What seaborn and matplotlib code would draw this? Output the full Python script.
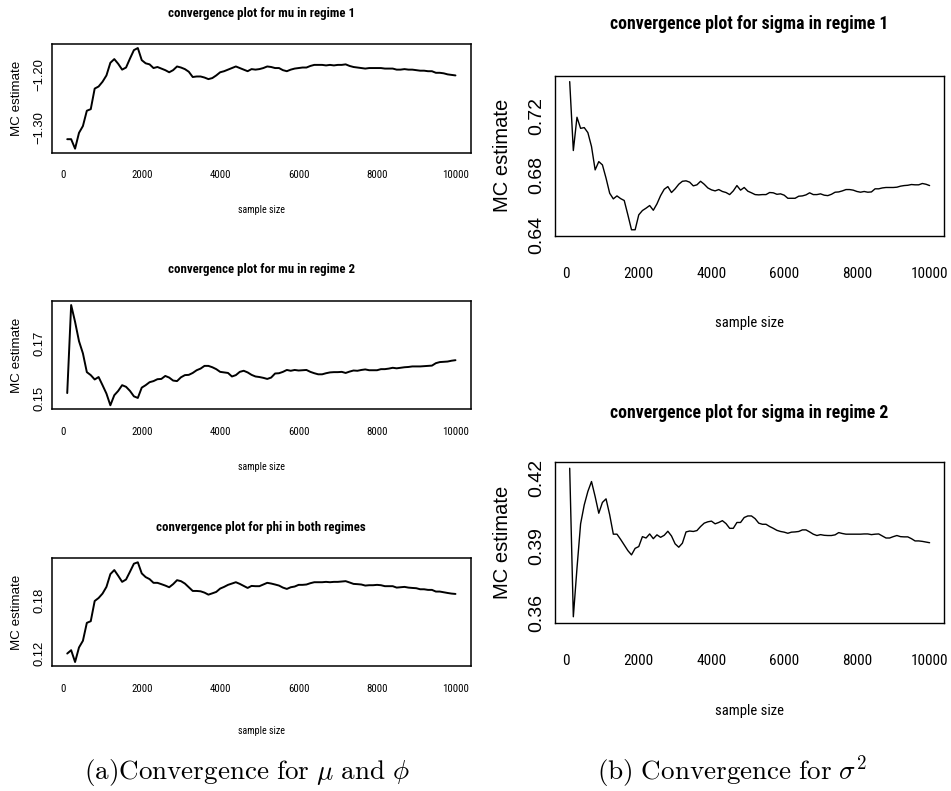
import numpy as np
import pandas as pd
import matplotlib
matplotlib.use("Agg")
import matplotlib.pyplot as plt
from matplotlib import font_manager
import seaborn as sns

# running MC estimates, recorded every 100 draws
sample_size = list(range(100, 10001, 100))

mu_regime1 = [
    -1.322, -1.322, -1.340, -1.310, -1.297, -1.268, -1.265, -1.226, -1.222, -1.213,
    -1.201, -1.177, -1.170, -1.179, -1.190, -1.186, -1.169, -1.153, -1.149, -1.172,
    -1.178, -1.180, -1.187, -1.185, -1.188, -1.191, -1.195, -1.191, -1.184, -1.186,
    -1.189, -1.194, -1.204, -1.203, -1.203, -1.205, -1.208, -1.206, -1.201, -1.195,
    -1.193, -1.190, -1.187, -1.184, -1.187, -1.190, -1.193, -1.189, -1.190, -1.189,
    -1.187, -1.184, -1.185, -1.187, -1.187, -1.191, -1.193, -1.190, -1.188, -1.187,
    -1.186, -1.186, -1.183, -1.181, -1.181, -1.181, -1.182, -1.181, -1.182, -1.181,
    -1.181, -1.180, -1.183, -1.185, -1.186, -1.187, -1.188, -1.187, -1.187, -1.187,
    -1.187, -1.188, -1.188, -1.188, -1.190, -1.190, -1.189, -1.190, -1.190, -1.191,
    -1.192, -1.192, -1.193, -1.193, -1.196, -1.196, -1.197, -1.199, -1.200, -1.201,
]

mu_regime2 = [
    0.1518, 0.1842, 0.1780, 0.1709, 0.1664, 0.1595, 0.1584, 0.1568, 0.1577, 0.1547,
    0.1516, 0.1473, 0.1510, 0.1526, 0.1547, 0.1541, 0.1526, 0.1506, 0.1500, 0.1538,
    0.1547, 0.1558, 0.1562, 0.1569, 0.1570, 0.1581, 0.1575, 0.1564, 0.1562, 0.1576,
    0.1584, 0.1585, 0.1592, 0.1602, 0.1608, 0.1618, 0.1618, 0.1613, 0.1606, 0.1596,
    0.1594, 0.1592, 0.1579, 0.1584, 0.1596, 0.1600, 0.1594, 0.1585, 0.1579, 0.1577,
    0.1574, 0.1570, 0.1575, 0.1590, 0.1591, 0.1596, 0.1603, 0.1600, 0.1603, 0.1601,
    0.1602, 0.1603, 0.1596, 0.1591, 0.1587, 0.1587, 0.1591, 0.1594, 0.1595, 0.1595,
    0.1596, 0.1592, 0.1597, 0.1601, 0.1600, 0.1603, 0.1605, 0.1602, 0.1602, 0.1602,
    0.1606, 0.1606, 0.1608, 0.1611, 0.1609, 0.1611, 0.1613, 0.1614, 0.1616, 0.1616,
    0.1616, 0.1617, 0.1618, 0.1619, 0.1628, 0.1632, 0.1633, 0.1634, 0.1637, 0.1639,
]

phi_both = [
    0.1196, 0.1234, 0.1100, 0.1265, 0.1341, 0.1544, 0.1563, 0.1792, 0.1826, 0.1876,
    0.1952, 0.2097, 0.2143, 0.2078, 0.2009, 0.2036, 0.2124, 0.2215, 0.2231, 0.2105,
    0.2063, 0.2040, 0.1998, 0.1998, 0.1983, 0.1967, 0.1948, 0.1983, 0.2028, 0.2017,
    0.1990, 0.1948, 0.1906, 0.1906, 0.1902, 0.1887, 0.1864, 0.1879, 0.1895, 0.1933,
    0.1952, 0.1975, 0.1990, 0.2005, 0.1986, 0.1963, 0.1940, 0.1963, 0.1960, 0.1960,
    0.1979, 0.1998, 0.1990, 0.1979, 0.1967, 0.1944, 0.1929, 0.1948, 0.1956, 0.1975,
    0.1975, 0.1979, 0.1994, 0.2005, 0.2005, 0.2005, 0.2009, 0.2005, 0.2009, 0.2009,
    0.2013, 0.2017, 0.2002, 0.1986, 0.1983, 0.1979, 0.1967, 0.1971, 0.1971, 0.1975,
    0.1971, 0.1960, 0.1960, 0.1960, 0.1944, 0.1948, 0.1952, 0.1944, 0.1940, 0.1937,
    0.1925, 0.1925, 0.1918, 0.1918, 0.1899, 0.1899, 0.1891, 0.1883, 0.1876, 0.1872,
]

sigma_regime1 = [
    0.7434, 0.6968, 0.7193, 0.7118, 0.7123, 0.7089, 0.6995, 0.6837, 0.6893, 0.6871,
    0.6781, 0.6679, 0.6641, 0.6661, 0.6643, 0.6630, 0.6533, 0.6432, 0.6432, 0.6533,
    0.6562, 0.6578, 0.6596, 0.6564, 0.6607, 0.6663, 0.6706, 0.6724, 0.6684, 0.6709,
    0.6740, 0.6760, 0.6763, 0.6754, 0.6729, 0.6736, 0.6760, 0.6740, 0.6715, 0.6702,
    0.6695, 0.6704, 0.6691, 0.6684, 0.6670, 0.6695, 0.6731, 0.6700, 0.6718, 0.6693,
    0.6682, 0.6670, 0.6668, 0.6670, 0.6670, 0.6684, 0.6682, 0.6672, 0.6675, 0.6666,
    0.6645, 0.6645, 0.6645, 0.6659, 0.6661, 0.6668, 0.6682, 0.6670, 0.6670, 0.6675,
    0.6666, 0.6663, 0.6672, 0.6686, 0.6688, 0.6695, 0.6704, 0.6704, 0.6700, 0.6691,
    0.6686, 0.6691, 0.6686, 0.6688, 0.6709, 0.6709, 0.6715, 0.6718, 0.6718, 0.6718,
    0.6720, 0.6727, 0.6731, 0.6733, 0.6738, 0.6736, 0.6736, 0.6745, 0.6740, 0.6731,
]

sigma_regime2 = [
    0.4245, 0.3585, 0.3800, 0.3998, 0.4082, 0.4142, 0.4186, 0.4119, 0.4045, 0.4093,
    0.4109, 0.4038, 0.3952, 0.3952, 0.3929, 0.3904, 0.3879, 0.3860, 0.3889, 0.3897,
    0.3941, 0.3935, 0.3953, 0.3932, 0.3949, 0.3938, 0.3947, 0.3965, 0.3944, 0.3909,
    0.3894, 0.3912, 0.3962, 0.3966, 0.3964, 0.3968, 0.3986, 0.4001, 0.4007, 0.4010,
    0.3998, 0.4004, 0.4012, 0.3999, 0.3978, 0.3978, 0.4004, 0.4004, 0.4026, 0.4033,
    0.4033, 0.4021, 0.4001, 0.3996, 0.3996, 0.3986, 0.3978, 0.3969, 0.3964, 0.3961,
    0.3956, 0.3961, 0.3962, 0.3964, 0.3971, 0.3971, 0.3962, 0.3952, 0.3946, 0.3950,
    0.3947, 0.3946, 0.3946, 0.3949, 0.3959, 0.3955, 0.3952, 0.3952, 0.3952, 0.3952,
    0.3952, 0.3953, 0.3953, 0.3950, 0.3952, 0.3953, 0.3944, 0.3935, 0.3935, 0.3941,
    0.3946, 0.3941, 0.3940, 0.3940, 0.3932, 0.3922, 0.3922, 0.3920, 0.3917, 0.3914,
]

x_ticks = [0, 2000, 4000, 6000, 8000, 10000]

sns.set_style("white")
plt.rcParams.update({
    "mathtext.fontset": "cm",
    "text.color": "black",
    "axes.labelcolor": "black",
    "xtick.color": "black",
    "ytick.color": "black",
})

# the source panels were squeezed sideways, so horizontal text looks condensed
installed = {f.name for f in font_manager.fontManager.ttflist}
narrow_name = next((n for n in ["Liberation Sans Narrow", "Arial Narrow",
                                "Roboto Condensed", "Open Sans Condensed"]
                    if n in installed), None)
if narrow_name:
    NARROW = [narrow_name, "DejaVu Sans"]
    shrink = 1.0
else:
    NARROW = ["Liberation Sans", "DejaVu Sans"]
    shrink = 0.86
REGULAR = ["Liberation Sans", "DejaVu Sans"]

W, H = 951, 791
fig = plt.figure(figsize=(W / 100, H / 100), dpi=100)


def px_text(x, y, s, **kw):
    fig.text(x / W, 1 - y / H, s, ha="center", va="center", **kw)


def panel(box, values, title, yticks, ylabels, small, text_y):
    left, top, right, bottom = box
    ax = fig.add_axes([left / W, 1 - bottom / H, (right - left) / W, (bottom - top) / H])
    df = pd.DataFrame({"n": sample_size, "est": values})
    sns.lineplot(data=df, x="n", y="est", ax=ax, color="black",
                 linewidth=1.4 if small else 1.0)
    # R style 4% padding
    lo, hi = min(values), max(values)
    pad = 0.04 * (hi - lo)
    ax.set_ylim(lo - pad, hi + pad)
    ax.set_xlim(100 - 0.04 * 9900, 10000 + 0.04 * 9900)
    for sp in ax.spines.values():
        sp.set_visible(True)
        sp.set_color("black")
        sp.set_linewidth(1.1 if small else 1.0)
    ax.set_xlabel("")
    ax.set_ylabel("")
    ax.set_xticks(x_ticks)
    ax.set_xticklabels([str(t) for t in x_ticks], family=NARROW,
                       fontsize=(7.8 if small else 11.0) * shrink)
    ax.set_yticks(yticks)
    ax.set_yticklabels(ylabels, family=REGULAR, fontsize=9.4 if small else 14,
                       rotation=90, va="center")
    ax.tick_params(axis="x", direction="out", length=5.3 if small else 8.4,
                   width=0.8, pad=7.3 if small else 14.0)
    ax.tick_params(axis="y", direction="out", length=3.6 if small else 5.5,
                   width=0.8, pad=1.0 if small else 2.0)
    ax.grid(False)

    cx = (left + right) / 2
    t_title, t_xlab, x_ylab = text_y
    px_text(cx, t_title, title, family=NARROW, fontweight="bold",
            fontsize=(9.3 if small else 12.8) * shrink)
    px_text(cx, t_xlab, "sample size", family=NARROW,
            fontsize=(7.2 if small else 10.5) * shrink)
    px_text(x_ylab, (top + bottom) / 2, "MC estimate", family=REGULAR,
            rotation=90, fontsize=9.6 if small else 14.5)
    return ax


panel((51.7, 44, 471, 152.7), mu_regime1, "convergence plot for mu in regime 1",
      [-1.30, -1.25, -1.20, -1.15], ["\u22121.30", "", "\u22121.20", ""],
      True, (13, 210, 17.3))
panel((51.7, 301, 471, 409.3), mu_regime2, "convergence plot for mu in regime 2",
      [0.15, 0.16, 0.17, 0.18], ["0.15", "", "0.17", ""],
      True, (270, 467, 17.3))
panel((51.7, 558.3, 471, 666), phi_both, "convergence plot for phi in both regimes",
      [0.12, 0.14, 0.16, 0.18, 0.20, 0.22], ["0.12", "", "", "0.18", "", ""],
      True, (527, 731, 17.3))
panel((555.3, 75.7, 944, 235.7), sigma_regime1, "convergence plot for sigma in regime 1",
      [0.64, 0.66, 0.68, 0.70, 0.72, 0.74], ["0.64", "", "0.68", "", "0.72", ""],
      False, (24, 323, 502.7))
panel((555.3, 462.3, 944, 622.7), sigma_regime2, "convergence plot for sigma in regime 2",
      [0.36, 0.37, 0.38, 0.39, 0.40, 0.41, 0.42],
      ["0.36", "", "", "0.39", "", "", "0.42"],
      False, (413, 711, 502.7))

px_text(247, 772, r"$\mathrm{(a)Convergence\ for\ }\mu\mathrm{\ and\ }\phi$", fontsize=19.5)
px_text(732, 772, r"$\mathrm{(b)\ Convergence\ for\ }\sigma^2$", fontsize=19.5)

fig.savefig("out.png", dpi=100)
